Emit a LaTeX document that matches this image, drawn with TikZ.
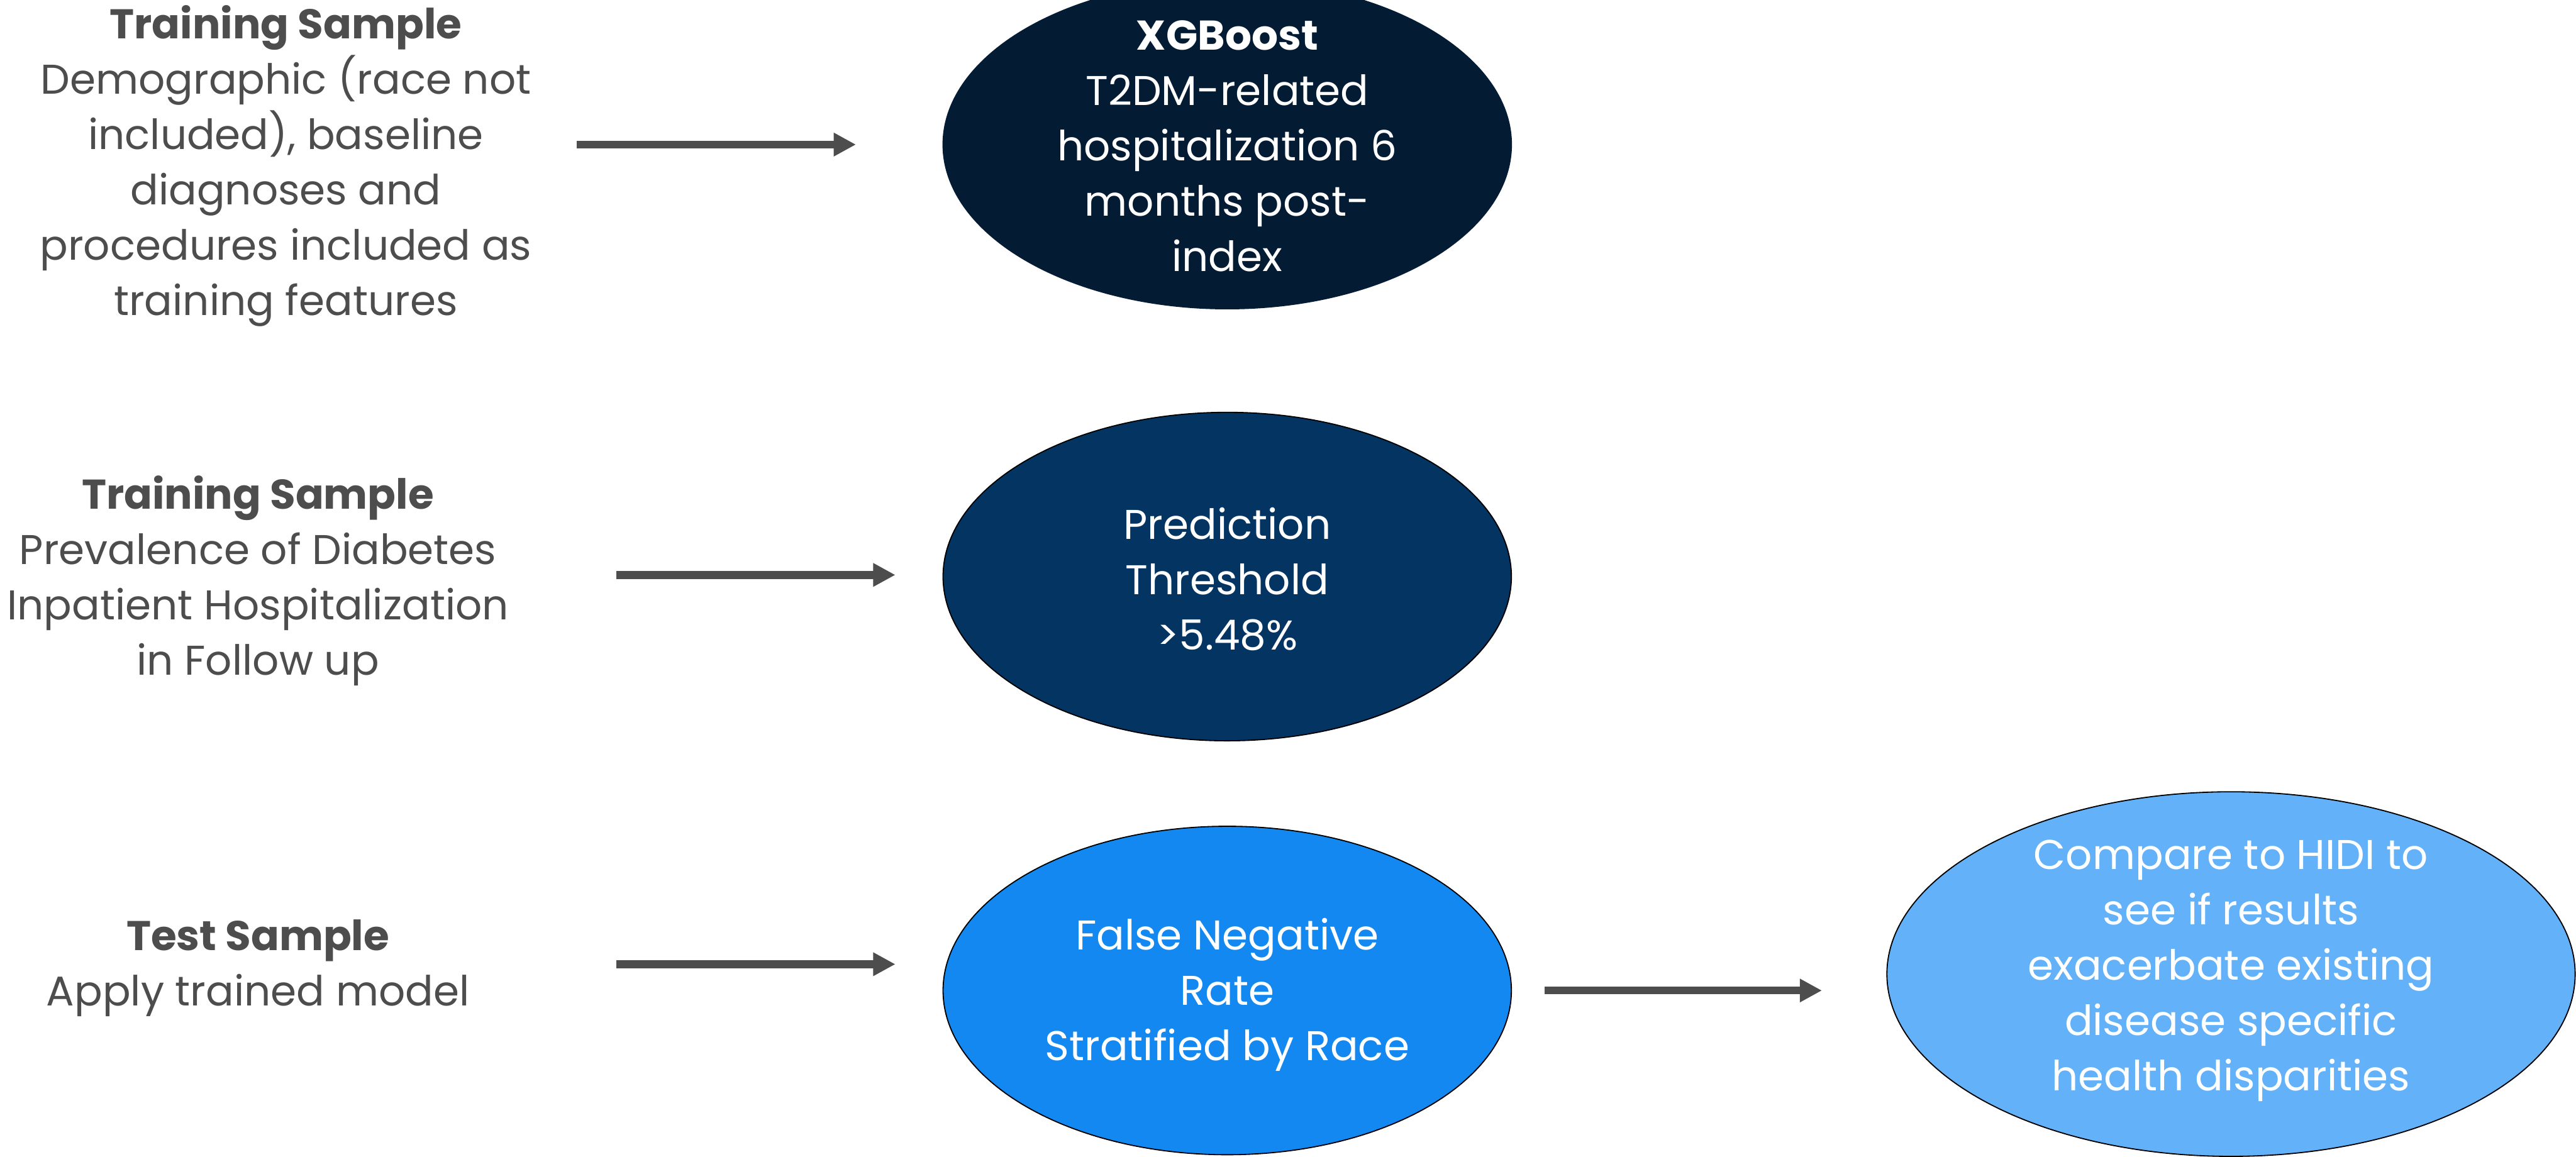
\documentclass[tikz,border=0pt]{standalone}
\usepackage{fontspec}
\setmainfont{Poppins}
\usetikzlibrary{shapes.geometric,arrows.meta}

\definecolor{textgray}{HTML}{4D4D4D}
\definecolor{arrowgray}{HTML}{4D4D4D}
\definecolor{navy}{HTML}{031B33}
\definecolor{deepblue}{HTML}{043461}
\definecolor{midblue}{HTML}{1388F0}
\definecolor{lightblue}{HTML}{63B1F8}

\begin{document}
\begin{tikzpicture}[x=0.02cm,y=-0.02cm,
        every node/.style={font=\fontsize{14.4}{19.2}\selectfont, align=center},
        side/.style={text=textgray},
        oval/.style={ellipse, draw=black, line width=0.4pt, inner sep=0pt,
            minimum width=6.92cm, minimum height=4cm},
        flow/.style={draw=arrowgray, line width=0.096cm,
            -{Triangle[length=0.27cm,width=0.27cm]}}]
                    \clip (0,0) rectangle (1568,704);

                    % left column
                    \node[side] (t1) at (174,101) {\textbf{Training Sample}\\Demographic (race not\\included), baseline\\diagnoses and\\procedures included as\\training features};
                    \node[side] (t2) at (157,353.5) {\textbf{Training Sample}\\Prevalence of Diabetes\\Inpatient Hospitalization\\in Follow up};
                    \node[side] (t3) at (157,589.5) {\textbf{Test Sample}\\Apply trained model};

                    % ellipses
                    \node[oval, fill=navy, draw=navy, label={[text=white, yshift=-0.02cm]center:{\textbf{XGBoost}\\T2DM-related\\hospitalization 6\\months post-\\index}}] (x1) at (747,88) {};
                    \node[oval, fill=deepblue, label={[text=white, yshift=-0.03cm]center:{Prediction\\Threshold\\>5.48\%}}] (x2) at (747,351) {};
                    \node[oval, fill=midblue, label={[text=white, yshift=-0.05cm]center:{False Negative\\Rate\\Stratified by Race}}] (x3) at (747,603) {};
                    \node[oval, fill=lightblue, minimum width=8.38cm, minimum height=4.44cm, label={[text=white, yshift=0.04cm]center:{Compare to HIDI to\\see if results\\exacerbate existing\\disease specific\\health disparities}}] (x4) at (1358,593) {};

                    % arrows
                    \coordinate (s1) at (351,88);
                    \coordinate (e1) at (521,88);
                    \coordinate (s2) at (375,350);
                    \coordinate (e2) at (545,350);
                    \coordinate (s3) at (375,587);
                    \coordinate (e3) at (545,587);
                    \coordinate (s4) at (940,603);
                    \coordinate (e4) at (1109,603);

                    \path (s1) edge[flow] (e1);
                    \path (s2) edge[flow] (e2);
                    \path (s3) edge[flow] (e3);
                    \path (s4) edge[flow] (e4);
                \end{tikzpicture}
\end{document}
